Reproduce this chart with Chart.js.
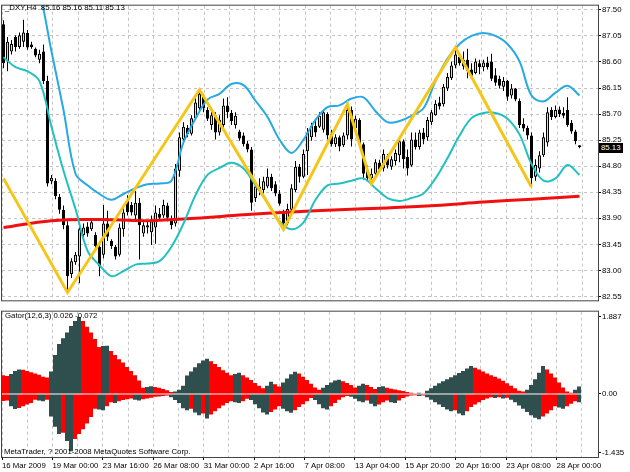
<!DOCTYPE html>
<html>
<head>
<meta charset="utf-8">
<script src="https://cdn.jsdelivr.net/npm/chart.js@4.4.1/dist/chart.umd.min.js"></script>
<style>
  body { margin: 0; background: #fff; }
  #wrap { position: relative; width: 630px; height: 472px; overflow: hidden; font-family: 'Liberation Sans', Arial, sans-serif; }
  #main { position: absolute; left: 0; top: 0; }
  #gator { position: absolute; left: 0; top: 306px; }
  .lbl { position: absolute; font-size: 7.8px; line-height: 9px; color: #000; white-space: pre; }
  #tag { position: absolute; left: 599px; top: 143px; width: 24px; height: 10px; background: #000; color: #fff;
         font-size: 7.8px; line-height: 10px; padding-left: 2px; box-sizing: border-box; white-space: pre; }
</style>
</head>
<body>
<div id="wrap">
  <canvas id="main" width="630" height="306"></canvas>
  <canvas id="gator" width="630" height="166"></canvas>
  <div class="lbl" style="left:5px;top:3px">_DXY,H4  85.16 85.16 85.11 85.13</div>
  <div class="lbl" style="left:5px;top:311px">Gator(12,6,3) 0.026 -0.072</div>
  <div class="lbl" style="left:4px;top:447px">MetaTrader, ? 2001-2008 MetaQuotes Software Corp.</div>
  <div id="tag">85.13</div>
</div>
<script>
// H4 candles, one per bar (index 0 = first bar on the left)
const open = [
  87.25, 86.61, 86.78, 87.03, 86.86, 86.95, 87.10, 86.90, 86.83, 86.64,
  86.78, 86.27, 84.54, 84.55, 84.27, 84.05, 83.78, 82.94, 83.14, 83.24,
  83.61, 83.76, 83.71, 83.61, 83.41, 83.27, 83.81, 83.51, 83.41, 83.27,
  83.71, 84.20, 84.13, 83.95, 84.17, 83.64, 83.74, 83.66, 83.74, 83.98,
  83.95, 84.12, 83.88, 83.81, 84.72, 85.26, 85.46, 85.36, 85.63, 85.80,
  86.02, 85.77, 85.51, 85.68, 85.38, 85.51, 85.85, 85.72, 85.51, 85.40,
  85.33, 85.19, 85.09, 84.25, 84.45, 84.39, 84.45, 84.62, 84.49, 84.33,
  84.01, 83.81, 84.05, 84.39, 84.79, 84.62, 85.06, 85.30, 85.50, 85.48,
  85.43, 85.70, 85.35, 85.18, 85.30, 85.16, 85.33, 85.77, 85.46, 85.60,
  85.18, 84.72, 84.59, 84.67, 84.86, 84.76, 84.97, 84.79, 84.89, 84.99,
  85.23, 84.96, 84.81, 85.26, 85.13, 85.38, 85.30, 85.56, 85.68, 85.90,
  85.87, 86.14, 86.32, 86.54, 86.69, 86.64, 86.64, 86.47, 86.41, 86.58,
  86.51, 86.59, 86.61, 86.37, 86.31, 86.17, 86.27, 86.02, 86.14, 85.93,
  85.53, 85.46, 85.33, 84.62, 84.76, 84.99, 85.21, 85.77, 85.65, 85.78,
  85.72, 85.77, 85.55, 85.40, 85.16
];
const high = [
  87.32, 87.03, 86.98, 87.06, 87.11, 87.33, 87.15, 86.95, 86.85, 86.81,
  86.90, 86.36, 84.65, 84.59, 84.32, 84.12, 83.85, 83.21, 83.32, 83.80,
  83.81, 83.83, 83.88, 83.66, 83.44, 84.13, 84.03, 83.54, 83.44, 83.81,
  84.12, 84.30, 84.18, 84.37, 84.25, 83.83, 83.85, 83.95, 84.12, 84.08,
  84.22, 84.17, 83.95, 84.84, 85.38, 85.56, 85.51, 85.68, 85.97, 86.12,
  86.05, 85.82, 85.77, 85.73, 85.68, 85.97, 85.99, 85.77, 85.73, 85.43,
  85.38, 85.24, 85.13, 84.54, 84.59, 84.62, 84.76, 84.67, 84.54, 84.39,
  84.05, 84.15, 84.49, 84.89, 84.84, 85.09, 85.46, 85.55, 85.60, 85.73,
  85.77, 85.73, 85.43, 85.35, 85.33, 85.38, 85.87, 85.83, 85.67, 85.63,
  85.21, 84.81, 84.76, 84.92, 84.91, 85.09, 85.01, 84.97, 85.09, 85.31,
  85.26, 85.09, 85.38, 85.38, 85.43, 85.46, 85.65, 85.77, 85.94, 86.00,
  86.22, 86.41, 86.61, 86.85, 86.73, 86.78, 86.83, 86.58, 86.66, 86.64,
  86.64, 86.69, 86.74, 86.49, 86.36, 86.34, 86.29, 86.22, 86.15, 85.97,
  85.63, 85.50, 85.38, 84.92, 85.06, 85.38, 85.82, 85.82, 85.85, 85.83,
  85.82, 85.99, 85.60, 85.43, 85.16
];
const low = [
  86.49, 86.44, 86.73, 86.78, 86.83, 86.86, 86.81, 86.83, 86.68, 86.58,
  86.22, 84.45, 84.49, 84.23, 83.98, 83.71, 82.62, 82.87, 83.10, 82.78,
  83.54, 83.58, 83.68, 83.37, 82.90, 83.21, 83.51, 83.37, 83.19, 83.24,
  83.58, 83.95, 83.95, 83.86, 83.19, 83.58, 83.64, 83.44, 83.46, 83.86,
  83.91, 83.85, 83.71, 83.76, 84.62, 85.21, 85.30, 85.33, 85.60, 85.75,
  85.73, 85.58, 85.43, 85.26, 85.33, 85.46, 85.63, 85.51, 85.45, 85.24,
  85.14, 85.04, 84.03, 84.18, 84.30, 84.33, 84.42, 84.37, 84.28, 84.12,
  83.71, 83.78, 83.96, 84.35, 84.52, 84.59, 84.65, 85.24, 85.31, 85.46,
  85.38, 85.26, 85.14, 85.13, 85.06, 85.13, 85.26, 85.14, 85.43, 85.13,
  84.57, 84.54, 84.50, 84.62, 84.71, 84.71, 84.76, 84.74, 84.81, 84.87,
  84.76, 84.64, 84.79, 85.09, 85.09, 85.18, 85.24, 85.51, 85.67, 85.78,
  85.83, 86.10, 86.29, 86.49, 86.54, 86.47, 86.32, 86.31, 86.39, 86.39,
  86.44, 86.47, 86.27, 86.19, 86.14, 86.10, 85.93, 85.97, 85.92, 85.46,
  85.40, 85.26, 84.44, 84.55, 84.69, 84.96, 85.14, 85.60, 85.63, 85.65,
  85.63, 85.48, 85.36, 85.18, 85.11
];
const close = [
  86.58, 86.95, 86.91, 86.86, 87.06, 87.11, 86.85, 86.86, 86.71, 86.74,
  86.27, 84.50, 84.60, 84.28, 84.05, 83.78, 82.90, 83.16, 83.27, 83.71,
  83.74, 83.64, 83.83, 83.42, 83.07, 83.81, 83.58, 83.42, 83.24, 83.74,
  84.00, 84.01, 84.00, 84.17, 83.78, 83.78, 83.78, 83.85, 84.00, 83.91,
  84.13, 83.91, 83.78, 84.76, 85.30, 85.48, 85.35, 85.63, 85.90, 86.05,
  85.80, 85.62, 85.68, 85.38, 85.60, 85.85, 85.73, 85.58, 85.67, 85.28,
  85.18, 85.09, 84.17, 84.45, 84.37, 84.54, 84.62, 84.42, 84.33, 84.15,
  83.81, 84.06, 84.42, 84.79, 84.62, 85.01, 85.38, 85.50, 85.38, 85.67,
  85.73, 85.33, 85.18, 85.30, 85.14, 85.33, 85.77, 85.26, 85.62, 85.18,
  84.67, 84.59, 84.67, 84.87, 84.74, 85.01, 84.81, 84.92, 85.03, 85.23,
  84.92, 84.76, 85.26, 85.13, 85.38, 85.26, 85.60, 85.73, 85.88, 85.83,
  86.17, 86.34, 86.54, 86.73, 86.58, 86.52, 86.44, 86.36, 86.61, 86.51,
  86.59, 86.51, 86.31, 86.24, 86.19, 86.27, 86.00, 86.14, 85.95, 85.51,
  85.45, 85.33, 84.59, 84.82, 84.99, 85.30, 85.73, 85.65, 85.77, 85.70,
  85.67, 85.51, 85.40, 85.23, 85.13
];

// bands, read every 3rd bar
const bandBars = [0, 3, 6, 9, 12, 15, 18, 21, 24, 27, 30, 33, 36, 39, 42, 45, 48, 51, 54, 57,
  60, 63, 66, 69, 72, 75, 78, 81, 84, 87, 90, 93, 96, 99, 102, 105, 108, 111, 114, 117,
  120, 123, 126, 129, 132, 135, 138, 141, 144];
const upperBand = [89.00, 88.70, 88.30, 87.80, 86.78, 85.77, 84.67, 84.47, 84.32, 84.22,
  84.32, 84.42, 84.49, 84.50, 84.55, 85.21, 85.62, 85.95, 86.05, 86.22,
  86.20, 85.93, 85.65, 85.26, 85.03, 85.26, 85.60, 85.82, 85.85, 85.97,
  85.99, 85.75, 85.56, 85.58, 85.67, 85.80, 86.27, 86.66, 86.91, 87.05,
  87.10, 87.05, 86.91, 86.61, 86.02, 85.92, 86.07, 86.19, 86.02];
const lowerBand = [86.68, 86.51, 86.44, 86.27, 85.48, 84.72, 84.06, 83.34, 83.09, 82.90,
  82.99, 83.10, 83.12, 83.16, 83.41, 83.81, 84.30, 84.65, 84.77, 84.86,
  84.76, 84.47, 84.17, 83.85, 83.71, 83.83, 84.22, 84.47, 84.50, 84.55,
  84.59, 84.42, 84.25, 84.20, 84.25, 84.33, 84.59, 84.94, 85.33, 85.63,
  85.72, 85.72, 85.62, 85.35, 84.84, 84.55, 84.59, 84.82, 84.65];

// slow moving average (red)
const maBars = [0, 12, 24, 36, 48, 60, 72, 84, 96, 108, 120, 132, 144];
const maValues = [83.74, 83.86, 83.88, 83.86, 83.90, 83.96, 84.01, 84.05, 84.08, 84.12, 84.18, 84.23, 84.28];

// zigzag turning points
const zigBars = [0, 16, 49, 70, 86, 92, 113, 132];
const zigValues = [84.59, 82.62, 86.12, 83.71, 85.87, 84.50, 86.85, 84.44];

// Gator oscillator, upper and lower histogram (lower given as size, drawn below zero)
const gatorUp = [
  0.46, 0.44, 0.49, 0.56, 0.60, 0.59, 0.56, 0.53, 0.50, 0.47,
  0.42, 0.40, 0.55, 0.95, 1.22, 1.36, 1.50, 1.66, 1.78, 1.88,
  1.78, 1.64, 1.50, 1.34, 1.15, 1.17, 1.18, 1.05, 0.95, 0.85,
  0.77, 0.66, 0.56, 0.46, 0.33, 0.15, 0.17, 0.19, 0.17, 0.15,
  0.12, 0.09, 0.05, 0.06, 0.10, 0.20, 0.45, 0.55, 0.65, 0.75,
  0.82, 0.86, 0.80, 0.73, 0.66, 0.58, 0.52, 0.46, 0.49, 0.52,
  0.46, 0.40, 0.34, 0.27, 0.20, 0.14, 0.20, 0.30, 0.24, 0.18,
  0.28, 0.38, 0.48, 0.54, 0.50, 0.42, 0.34, 0.25, 0.16, 0.10,
  0.15, 0.22, 0.28, 0.33, 0.35, 0.31, 0.27, 0.22, 0.16, 0.20,
  0.25, 0.22, 0.17, 0.12, 0.17, 0.19, 0.15, 0.13, 0.11, 0.09,
  0.07, 0.05, 0.03, 0.02, 0.03, 0.02, 0.08, 0.14, 0.20, 0.26,
  0.31, 0.36, 0.41, 0.46, 0.51, 0.56, 0.62, 0.68, 0.64, 0.60,
  0.55, 0.50, 0.46, 0.42, 0.38, 0.32, 0.26, 0.20, 0.14, 0.08,
  0.06, 0.10, 0.22, 0.36, 0.52, 0.68, 0.60, 0.50, 0.40, 0.28,
  0.16, 0.06, 0.03, 0.10, 0.18
];
const gatorDown = [
  0.17, 0.16, 0.30, 0.37, 0.34, 0.30, 0.26, 0.22, 0.14, 0.16,
  0.18, 0.14, 0.55, 0.80, 0.98, 0.95, 1.15, 1.40, 1.10, 0.98,
  0.86, 0.72, 0.56, 0.36, 0.38, 0.40, 0.30, 0.20, 0.22, 0.18,
  0.15, 0.13, 0.11, 0.14, 0.16, 0.13, 0.11, 0.09, 0.07, 0.06,
  0.05, 0.04, 0.08, 0.15, 0.22, 0.35, 0.40, 0.36, 0.45, 0.52,
  0.48, 0.60, 0.50, 0.42, 0.35, 0.28, 0.22, 0.18, 0.20, 0.22,
  0.18, 0.12, 0.15, 0.25, 0.35, 0.45, 0.50, 0.44, 0.38, 0.30,
  0.36, 0.42, 0.46, 0.40, 0.32, 0.25, 0.18, 0.10, 0.15, 0.25,
  0.35, 0.38, 0.30, 0.22, 0.14, 0.08, 0.05, 0.07, 0.12, 0.18,
  0.20, 0.16, 0.24, 0.30, 0.26, 0.20, 0.16, 0.20, 0.22, 0.16,
  0.10, 0.06, 0.04, 0.03, 0.05, 0.04, 0.08, 0.14, 0.20, 0.26,
  0.32, 0.38, 0.42, 0.40, 0.48, 0.52, 0.42, 0.32, 0.26, 0.20,
  0.15, 0.11, 0.08, 0.10, 0.08, 0.11, 0.09, 0.14, 0.20, 0.28,
  0.36, 0.44, 0.52, 0.58, 0.62, 0.55, 0.48, 0.40, 0.30, 0.33,
  0.36, 0.30, 0.24, 0.18, 0.20
];

const timeLabels = ['16 Mar 2009', '19 Mar 00:00', '23 Mar 16:00', '26 Mar 08:00', '31 Mar 00:00', '2 Apr 16:00',
  '7 Apr 08:00', '13 Apr 04:00', '15 Apr 20:00', '20 Apr 16:00', '23 Apr 08:00', '28 Apr 00:00'];
const priceTicks = [82.55, 83.00, 83.45, 83.90, 84.35, 84.80, 85.25, 85.70, 86.15, 86.60, 87.05, 87.50];
const gatorTicks = [1.887, 0, -1.435];

const FONT = { family: "'Liberation Sans', Arial, sans-serif", size: 7.8 };
const GRID = '#c4c4c4';
const DARK = '#2f4f4f';
const RED = '#ff0000';

// vertical grid every ~6.3 bars, time label on every second one
const gridBars = Array.from({ length: 24 }, (_, k) => -0.25 + k * 6.3025);

// panel frame
const frame = {
  id: 'frame',
  afterDraw(chart) {
    const { ctx, chartArea: a } = chart;
    ctx.save();
    ctx.strokeStyle = '#444';
    ctx.lineWidth = 1;
    ctx.strokeRect(a.left - 0.5, a.top - 0.5, a.right - a.left + 1, a.bottom - a.top + 1);
    ctx.restore();
  }
};

// MT4 gator colouring: rising bar dark, falling bar red
function gatorColors(vals) {
  let c = RED;
  return vals.map((v, i) => {
    if (i > 0 && v > vals[i - 1]) c = DARK;
    else if (i > 0 && v < vals[i - 1]) c = RED;
    return c;
  });
}

const mainChart = new Chart(document.getElementById('main'), {
  type: 'bar',
  data: {
    datasets: [
      {
        type: 'line', label: 'ZigZag', order: 0,
        data: zigBars.map((b, k) => ({ x: b, y: zigValues[k] })),
        borderColor: '#f5c518', borderWidth: 3, pointRadius: 0, tension: 0, clip: 0
      },
      {
        type: 'line', label: 'Upper', order: 1,
        data: bandBars.map((b, k) => ({ x: b, y: upperBand[k] })),
        borderColor: '#27a9e1', borderWidth: 2, pointRadius: 0, tension: 0.35, clip: 0
      },
      {
        type: 'line', label: 'Lower', order: 1,
        data: bandBars.map((b, k) => ({ x: b, y: lowerBand[k] })),
        borderColor: '#22c0c0', borderWidth: 2, pointRadius: 0, tension: 0.35, clip: 0
      },
      {
        type: 'line', label: 'MA', order: 2,
        data: maBars.map((b, k) => ({ x: b, y: maValues[k] })),
        borderColor: '#f01010', borderWidth: 3, pointRadius: 0, tension: 0.4, clip: 0
      },
      {
        label: 'Body', order: 3,
        data: open.map((o, i) => ({ x: i, y: [o, close[i]] })),
        backgroundColor: open.map((o, i) => close[i] >= o ? '#d8d8d8' : '#000000'),
        borderColor: '#000', borderWidth: 1, borderSkipped: false,
        barThickness: 3, grouped: false, inflateAmount: 0
      },
      {
        label: 'Wick', order: 4,
        data: high.map((h, i) => ({ x: i, y: [low[i], h] })),
        backgroundColor: '#000', borderWidth: 0,
        barThickness: 1, grouped: false, inflateAmount: 0
      }
    ]
  },
  options: {
    responsive: false,
    animation: false,
    events: [],
    layout: { padding: { left: 2, top: 3, bottom: 1, right: 0 } },
    plugins: { legend: { display: false }, tooltip: { enabled: false } },
    scales: {
      x: {
        type: 'linear', min: -0.375, max: 148.625, offset: false,
        afterBuildTicks: s => { s.ticks = gridBars.map(v => ({ value: v })); },
        afterFit: s => { s.height = 0; },
        ticks: { display: false, autoSkip: false },
        grid: { color: GRID, drawTicks: false, offset: false },
        border: { display: false, dash: [3, 3] }
      },
      y: {
        position: 'right', min: 82.484, max: 87.572,
        afterBuildTicks: s => { s.ticks = priceTicks.map(v => ({ value: v })); },
        afterFit: s => { s.width = 32; },
        ticks: { autoSkip: false, font: FONT, color: '#000', padding: 1, callback: v => v.toFixed(2) },
        grid: { color: GRID, tickColor: '#000', tickLength: 3 },
        border: { display: false, dash: [3, 3] }
      }
    }
  },
  plugins: [frame]
});

const gatorChart = new Chart(document.getElementById('gator'), {
  type: 'bar',
  data: {
    datasets: [
      {
        label: 'Up',
        data: gatorUp.map((v, i) => ({ x: i, y: v })),
        backgroundColor: gatorColors(gatorUp),
        borderWidth: 0, barThickness: 4, grouped: false, inflateAmount: 0
      },
      {
        label: 'Down',
        data: gatorDown.map((v, i) => ({ x: i, y: -v })),
        backgroundColor: gatorColors(gatorDown),
        borderWidth: 0, barThickness: 4, grouped: false, inflateAmount: 0
      }
    ]
  },
  options: {
    responsive: false,
    animation: false,
    events: [],
    layout: { padding: { left: 2, top: 2, bottom: 0, right: 0 } },
    plugins: { legend: { display: false }, tooltip: { enabled: false } },
    scales: {
      x: {
        type: 'linear', min: -0.25, max: 148.75, offset: false,
        afterBuildTicks: s => { s.ticks = gridBars.map(v => ({ value: v })); },
        afterFit: s => { s.height = 15; },
        ticks: {
          autoSkip: false, maxRotation: 0, minRotation: 0, align: 'start',
          font: FONT, color: '#000', padding: 1,
          callback: (v, idx) => (idx % 2 === 0 && timeLabels[idx / 2]) ? timeLabels[idx / 2] : ''
        },
        grid: {
          color: GRID, tickLength: 3, offset: false,
          tickColor: c => c.index % 2 === 0 ? '#000' : 'rgba(0,0,0,0)'
        },
        border: { display: false, dash: [3, 3] }
      },
      y: {
        position: 'right', min: -1.54, max: 2.01,
        afterBuildTicks: s => { s.ticks = gatorTicks.map(v => ({ value: v })); },
        afterFit: s => { s.width = 32; },
        ticks: { autoSkip: false, font: FONT, color: '#000', padding: 1,
                 callback: v => v === 0 ? '0.00' : v.toFixed(3) },
        grid: { drawOnChartArea: false, tickColor: '#000', tickLength: 3 },
        border: { display: false }
      }
    }
  },
  plugins: [frame]
});
</script>
</body>
</html>
